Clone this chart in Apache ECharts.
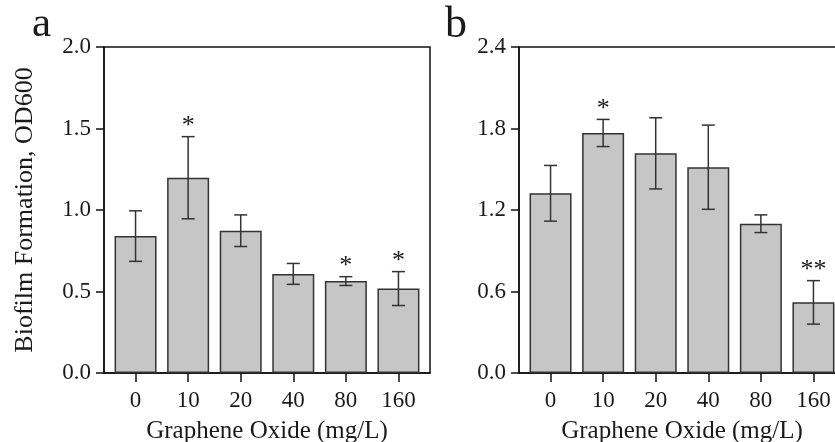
<!DOCTYPE html>
<html><head><meta charset="utf-8">
<script src="https://cdn.jsdelivr.net/npm/echarts@6/dist/echarts.min.js"></script>
<style>html,body{margin:0;padding:0;background:#fff}#c{width:835px;height:442px}</style>
</head><body><div id="c"></div>
<script>
const categories = ['0', '10', '20', '40', '80', '160'];
const meanA = [0.840, 1.198, 0.873, 0.608, 0.564, 0.518];
const sdA   = [0.155, 0.252, 0.097, 0.064, 0.027, 0.104];
const starA = ['', '*', '', '', '*', '*'];
const meanB = [1.323, 1.767, 1.617, 1.515, 1.099, 0.520];
const sdB   = [0.205, 0.100, 0.262, 0.310, 0.065, 0.160];
const starB = ['', '*', '', '', '', '**'];
const yTicksA = [0, 0.5, 1.0, 1.5, 2.0];
const yTicksB = [0, 0.6, 1.2, 1.8, 2.4];

const FONT = '"Liberation Serif", "Times New Roman", serif';
const TXT = '#1a1a1a';
const chart = echarts.init(document.getElementById('c'), null, {renderer: 'canvas'});
const idx = categories.map((_, i) => i);

function xAxis(gi) {
  return {
    type: 'value', gridIndex: gi, min: -0.6, max: 5.6,
    name: 'Graphene Oxide (mg/L)', nameLocation: 'middle', nameGap: 46,
    nameTextStyle: {fontFamily: FONT, fontSize: 25, color: TXT},
    splitLine: {show: false},
    axisLine: {onZero: false, lineStyle: {color: '#111', width: 1.5}},
    axisTick: {customValues: idx, length: 9, lineStyle: {color: '#111', width: 1.5}},
    axisLabel: {customValues: idx, formatter: v => categories[Math.round(v)], fontFamily: FONT, fontSize: 23, color: TXT, margin: 16}
  };
}
function yAxis(gi, ticks, withName) {
  return {
    type: 'value', gridIndex: gi, min: ticks[0], max: ticks[ticks.length - 1], interval: ticks[1] - ticks[0],
    name: withName ? 'Biofilm Formation, OD600' : '', nameLocation: 'middle', nameGap: 66,
    nameTextStyle: {fontFamily: FONT, fontSize: 26, color: TXT},
    splitLine: {show: false},
    axisLine: {show: true, onZero: false, lineStyle: {color: '#111', width: 1.5}},
    axisTick: {show: true, length: 8, lineStyle: {color: '#111', width: 1.5}},
    axisLabel: {formatter: v => v.toFixed(1), fontFamily: FONT, fontSize: 23, color: TXT, margin: 13}
  };
}
function barSeries(gi, mean) {
  return {
    type: 'bar', xAxisIndex: gi, yAxisIndex: gi, barWidth: 42,
    data: mean.map((m, i) => [i, m]),
    itemStyle: {color: '#c6c6c6', borderColor: '#333', borderWidth: 1.5},
    silent: true, animation: false
  };
}
function errSeries(gi, mean, sd, stars) {
  return {
    type: 'custom', xAxisIndex: gi, yAxisIndex: gi, animation: false, silent: true, z: 5,
    data: mean.map((m, i) => [i, m - sd[i], m + sd[i], stars[i]]),
    renderItem: function (params, api) {
      const x = api.value(0);
      const lo = api.coord([x, api.value(1)]);
      const hi = api.coord([x, api.value(2)]);
      const hw = 6.5;
      const st = {stroke: '#333', lineWidth: 1.5};
      const children = [
        {type: 'line', shape: {x1: lo[0], y1: lo[1], x2: hi[0], y2: hi[1]}, style: st},
        {type: 'line', shape: {x1: lo[0] - hw, y1: lo[1], x2: lo[0] + hw, y2: lo[1]}, style: st},
        {type: 'line', shape: {x1: hi[0] - hw, y1: hi[1], x2: hi[0] + hw, y2: hi[1]}, style: st}
      ];
      const s = api.value(3);
      if (s) {
        children.push({type: 'text', style: {text: s, x: hi[0], y: hi[1] + 3, align: 'center', verticalAlign: 'bottom', fontFamily: FONT, fontSize: 26, fill: TXT}});
      }
      return {type: 'group', children: children};
    }
  };
}

chart.setOption({
  backgroundColor: '#ffffff',
  animation: false,
  grid: [
    {left: 104, top: 47, width: 326, height: 326, outerBoundsMode: 'none', containLabel: false, show: true, borderColor: '#111', borderWidth: 1.5, backgroundColor: 'transparent'},
    {left: 519, top: 47, width: 326, height: 326, outerBoundsMode: 'none', containLabel: false, show: true, borderColor: '#111', borderWidth: 1.5, backgroundColor: 'transparent'}
  ],
  xAxis: [xAxis(0), xAxis(1)],
  yAxis: [yAxis(0, yTicksA, true), yAxis(1, yTicksB, false)],
  series: [barSeries(0, meanA), errSeries(0, meanA, sdA, starA), barSeries(1, meanB), errSeries(1, meanB, sdB, starB)],
  graphic: [
    {type: 'text', left: 32, top: 3, style: {text: 'a', fontFamily: FONT, fontSize: 43, fill: TXT}},
    {type: 'text', left: 445, top: 3, style: {text: 'b', fontFamily: FONT, fontSize: 44, fill: TXT}}
  ]
});
</script></body></html>
